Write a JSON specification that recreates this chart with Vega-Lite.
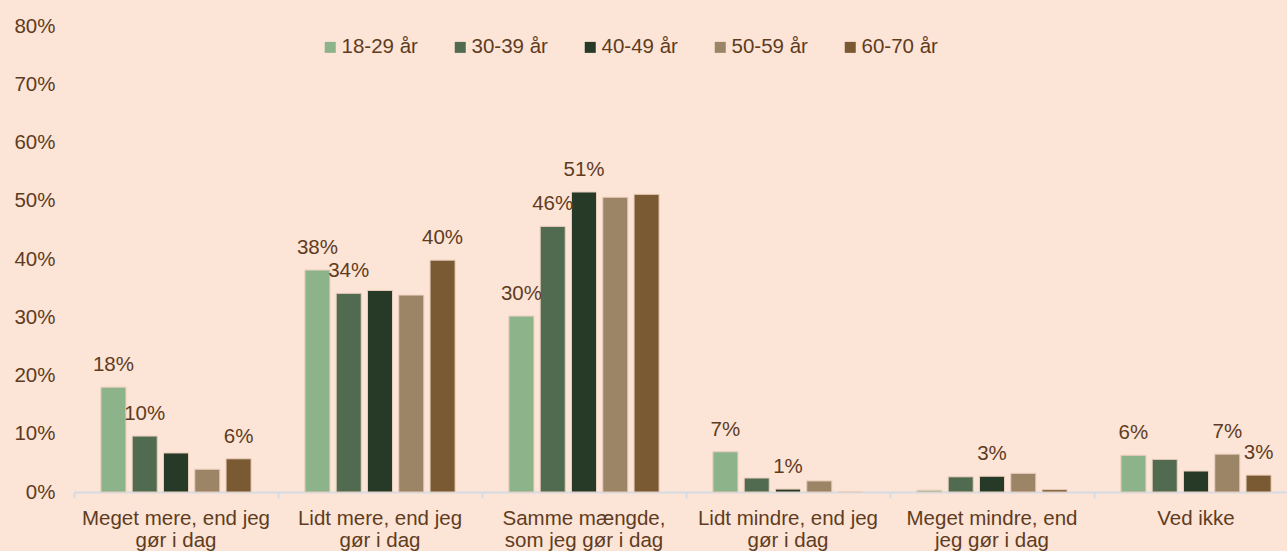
{
  "$schema": "https://vega.github.io/schema/vega-lite/v6.json",
  "width": 1224,
  "height": 466,
  "autosize": {"type": "none"},
  "padding": {"left": 74, "top": 26, "right": 0, "bottom": 59},
  "background": "#FCE4D6",
  "config": {
    "view": {"stroke": null},
    "font": "Liberation Sans",
    "text": {"font": "Liberation Sans"}
  },
  "data": {
    "values": [
      {"category": "Meget mere, end jeg gør i dag", "group": "18-29 år", "value": 0.180, "label": "18%"},
      {"category": "Meget mere, end jeg gør i dag", "group": "30-39 år", "value": 0.096, "label": "10%"},
      {"category": "Meget mere, end jeg gør i dag", "group": "40-49 år", "value": 0.067, "label": ""},
      {"category": "Meget mere, end jeg gør i dag", "group": "50-59 år", "value": 0.039, "label": ""},
      {"category": "Meget mere, end jeg gør i dag", "group": "60-70 år", "value": 0.057, "label": "6%"},
      {"category": "Lidt mere, end jeg gør i dag", "group": "18-29 år", "value": 0.381, "label": "38%"},
      {"category": "Lidt mere, end jeg gør i dag", "group": "30-39 år", "value": 0.341, "label": "34%"},
      {"category": "Lidt mere, end jeg gør i dag", "group": "40-49 år", "value": 0.346, "label": ""},
      {"category": "Lidt mere, end jeg gør i dag", "group": "50-59 år", "value": 0.338, "label": ""},
      {"category": "Lidt mere, end jeg gør i dag", "group": "60-70 år", "value": 0.398, "label": "40%"},
      {"category": "Samme mængde, som jeg gør i dag", "group": "18-29 år", "value": 0.302, "label": "30%"},
      {"category": "Samme mængde, som jeg gør i dag", "group": "30-39 år", "value": 0.456, "label": "46%"},
      {"category": "Samme mængde, som jeg gør i dag", "group": "40-49 år", "value": 0.515, "label": "51%"},
      {"category": "Samme mængde, som jeg gør i dag", "group": "50-59 år", "value": 0.506, "label": ""},
      {"category": "Samme mængde, som jeg gør i dag", "group": "60-70 år", "value": 0.511, "label": ""},
      {"category": "Lidt mindre, end jeg gør i dag", "group": "18-29 år", "value": 0.069, "label": "7%"},
      {"category": "Lidt mindre, end jeg gør i dag", "group": "30-39 år", "value": 0.024, "label": ""},
      {"category": "Lidt mindre, end jeg gør i dag", "group": "40-49 år", "value": 0.005, "label": "1%"},
      {"category": "Lidt mindre, end jeg gør i dag", "group": "50-59 år", "value": 0.019, "label": ""},
      {"category": "Lidt mindre, end jeg gør i dag", "group": "60-70 år", "value": 0.0, "label": ""},
      {"category": "Meget mindre, end jeg gør i dag", "group": "18-29 år", "value": 0.003, "label": ""},
      {"category": "Meget mindre, end jeg gør i dag", "group": "30-39 år", "value": 0.026, "label": ""},
      {"category": "Meget mindre, end jeg gør i dag", "group": "40-49 år", "value": 0.027, "label": "3%"},
      {"category": "Meget mindre, end jeg gør i dag", "group": "50-59 år", "value": 0.032, "label": ""},
      {"category": "Meget mindre, end jeg gør i dag", "group": "60-70 år", "value": 0.004, "label": ""},
      {"category": "Ved ikke", "group": "18-29 år", "value": 0.063, "label": "6%"},
      {"category": "Ved ikke", "group": "30-39 år", "value": 0.056, "label": ""},
      {"category": "Ved ikke", "group": "40-49 år", "value": 0.036, "label": ""},
      {"category": "Ved ikke", "group": "50-59 år", "value": 0.065, "label": "7%"},
      {"category": "Ved ikke", "group": "60-70 år", "value": 0.029, "label": "3%"}
    ]
  },
  "encoding": {
    "x": {
      "field": "category",
      "type": "nominal",
      "sort": null,
      "scale": {"paddingInner": 0, "paddingOuter": 0},
      "axis": {
        "title": null,
        "labelAngle": 0,
        "bandPosition": 0,
        "labelFontSize": 20.5,
        "labelColor": "#5F3C1F",
        "labelFont": "Liberation Sans",
        "labelPadding": 10,
        "labelLineHeight": 22,
        "labelBaseline": "top",
        "labelLimit": 400,
        "labelOverlap": false,
        "domainColor": "#D6DCE4",
        "domainWidth": 2,
        "tickColor": "#D6DCE4",
        "tickWidth": 2,
        "tickSize": 6,
        "labelExpr": "datum.value == 'Meget mere, end jeg gør i dag' ? ['Meget mere, end jeg', 'gør i dag'] : datum.value == 'Lidt mere, end jeg gør i dag' ? ['Lidt mere, end jeg', 'gør i dag'] : datum.value == 'Samme mængde, som jeg gør i dag' ? ['Samme mængde,', 'som jeg gør i dag'] : datum.value == 'Lidt mindre, end jeg gør i dag' ? ['Lidt mindre, end jeg', 'gør i dag'] : datum.value == 'Meget mindre, end jeg gør i dag' ? ['Meget mindre, end', 'jeg gør i dag'] : datum.value"
      }
    },
    "xOffset": {
      "field": "group",
      "type": "nominal",
      "scale": {"paddingInner": 0.2, "paddingOuter": 0.86}
    },
    "y": {
      "field": "value",
      "type": "quantitative",
      "scale": {"domain": [0, 0.8]},
      "axis": {
        "title": null,
        "format": ".0%",
        "values": [0, 0.1, 0.2, 0.3, 0.4, 0.5, 0.6, 0.7, 0.8],
        "labelOverlap": false,
        "grid": false,
        "domain": false,
        "ticks": false,
        "labelPadding": 19,
        "labelFontSize": 20.5,
        "labelColor": "#5F3C1F",
        "labelFont": "Liberation Sans"
      }
    }
  },
  "layer": [
    {
      "mark": {"type": "bar", "stroke": "#E8CDBB", "strokeWidth": 1},
      "encoding": {
        "color": {
          "field": "group",
          "type": "nominal",
          "scale": {
            "domain": ["18-29 år", "30-39 år", "40-49 år", "50-59 år", "60-70 år"],
            "range": ["#8DB38A", "#506B4F", "#263A27", "#9C8466", "#7A5A33"]
          },
          "legend": {
            "title": null,
            "orient": "none",
            "direction": "horizontal",
            "legendX": 246,
            "legendY": 11,
            "symbolType": "square",
            "symbolSize": 121,
            "symbolStrokeWidth": 0,
            "labelFontSize": 20.5,
            "labelColor": "#5F3C1F",
            "labelFont": "Liberation Sans",
            "labelOffset": 1,
            "columnPadding": 32,
            "labelLimit": 200
          }
        }
      }
    },
    {
      "mark": {"type": "text", "dy": -22, "baseline": "middle", "fontSize": 20.5, "color": "#5F3C1F"},
      "encoding": {"text": {"field": "label"}}
    }
  ]
}
